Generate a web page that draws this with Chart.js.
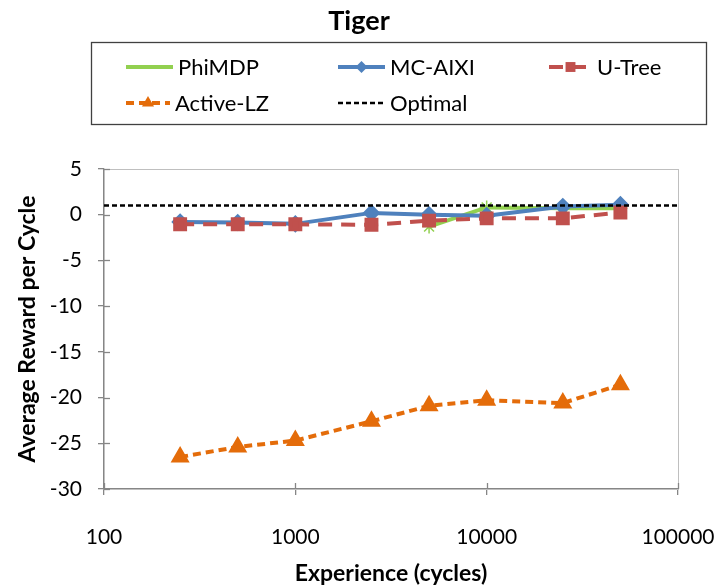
<!DOCTYPE html>
<html><head><meta charset="utf-8">
<script src="https://cdn.jsdelivr.net/npm/chart.js@4/dist/chart.umd.min.js"></script>
<style>html,body{margin:0;padding:0;background:#fff}#wrap{width:718px;height:588px;position:relative}</style>
</head><body><div id="wrap"><canvas id="c"></canvas></div>
<script>
const chartTitle = 'Tiger';
const xAxisTitle = 'Experience (cycles)';
const yAxisTitle = 'Average Reward per Cycle';
const seriesNames = ['PhiMDP', 'MC-AIXI', 'U-Tree', 'Active-LZ', 'Optimal'];
const experience = [250, 500, 1000, 2500, 5000, 10000, 25000, 50000];
const phiMDP   = [null, null, null, null, -1.3, 0.8, 0.7, 0.7];
const mcAIXI   = [-0.8, -0.85, -1.0, 0.2, 0.0, -0.1, 0.9, 1.1];
const uTree    = [-1.05, -1.05, -1.05, -1.1, -0.65, -0.4, -0.4, 0.25];
const activeLZ = [-26.5, -25.4, -24.7, -22.6, -20.9, -20.3, -20.6, -18.6];
const optimalValue = 1;
const xTickValues = [100, 1000, 10000, 100000];
const yMin = -30, yMax = 5, yStep = 5;

const FONT = 'Lato';
const AXIS = '#868686';
const pts = arr => experience.map((x, i) => ({x, y: arr[i]}));

const datasets = [
  {label: seriesNames[0], data: pts(phiMDP), borderColor: '#92D050', backgroundColor: '#92D050',
   borderWidth: 4, pointStyle: 'star', pointRadius: 7, pointBorderWidth: 1.5, order: 4},
  {label: seriesNames[1], data: pts(mcAIXI), borderColor: '#4F81BD', backgroundColor: '#4F81BD',
   borderWidth: 4, pointStyle: 'rectRot', pointRadius: 6, order: 3},
  {label: seriesNames[2], data: pts(uTree), borderColor: '#C0504D', backgroundColor: '#C0504D',
   borderWidth: 4, borderDash: [14, 9], pointStyle: 'rect', pointRadius: 7, order: 1},
  {label: seriesNames[3], data: pts(activeLZ), borderColor: '#E46C0A', backgroundColor: '#E46C0A',
   borderWidth: 4, borderDash: [8, 5], pointStyle: 'triangle', pointRadius: 7, order: 2},
  {label: seriesNames[4], data: [{x: xTickValues[0], y: optimalValue}, {x: xTickValues[xTickValues.length-1], y: optimalValue}],
   borderColor: '#000', backgroundColor: '#000', borderWidth: 2.5, borderDash: [5, 3], pointRadius: 0, order: 0}
];
datasets.forEach(d => { d.pointBorderColor = d.borderColor; d.pointBackgroundColor = d.borderColor; d.clip = 6; });

const legendSlots = [
  {x: 126, y: 67, w: 47}, {x: 338, y: 67, w: 47}, {x: 549, y: 67, w: 43},
  {x: 126, y: 103, w: 44}, {x: 338, y: 103, w: 47}
];

const decorPlugin = {
  id: 'decor',
  beforeDatasetsDraw(chart) {
    const {ctx, chartArea: a} = chart;
    ctx.save();
    ctx.strokeStyle = '#BFBFBF'; ctx.lineWidth = 1;
    ctx.strokeRect(a.left + 0.5, a.top + 0.5, a.right - a.left, a.bottom - a.top);
    ctx.restore();
  },
  afterDraw(chart) {
    const {ctx, chartArea: a} = chart;
    ctx.save();
    ctx.strokeStyle = AXIS; ctx.lineWidth = 1.3;
    chart.scales.y.ticks.forEach(t => {
      const y = Math.round(chart.scales.y.getPixelForValue(t.value)) + 0.5;
      ctx.beginPath(); ctx.moveTo(a.left, y); ctx.lineTo(a.left + 6, y); ctx.stroke();
    });
    chart.scales.x.ticks.forEach(t => {
      const x = Math.round(chart.scales.x.getPixelForValue(t.value)) + 0.5;
      ctx.beginPath(); ctx.moveTo(x, a.bottom); ctx.lineTo(x, a.bottom - 6); ctx.stroke();
    });
    ctx.fillStyle = '#000';
    ctx.font = 'bold 27px ' + FONT;
    ctx.textAlign = 'center'; ctx.textBaseline = 'middle';
    ctx.fillText(chartTitle, 359, 21);
    ctx.strokeStyle = '#404040'; ctx.lineWidth = 1.3;
    ctx.strokeRect(91.5, 42.5, 615, 82);
    ctx.font = '22px ' + FONT; ctx.textAlign = 'left';
    chart.data.datasets.forEach((d, i) => {
      const s = legendSlots[i];
      ctx.save();
      ctx.strokeStyle = d.borderColor; ctx.lineWidth = d.borderWidth;
      ctx.setLineDash(d.borderDash || []);
      ctx.beginPath(); ctx.moveTo(s.x, s.y); ctx.lineTo(s.x + s.w, s.y); ctx.stroke();
      ctx.setLineDash([]);
      if (d.pointRadius > 0) {
        ctx.fillStyle = d.borderColor; ctx.strokeStyle = d.borderColor;
        ctx.lineWidth = d.pointBorderWidth || 1;
        Chart.helpers.drawPoint(ctx, {pointStyle: d.pointStyle, radius: d.pointRadius, rotation: 0}, s.x + s.w / 2, s.y);
      }
      ctx.restore();
      ctx.fillStyle = '#000';
      ctx.fillText(d.label, s.x + s.w + 5, s.y + 1);
    });
    ctx.restore();
  }
};

new Chart(document.getElementById('c'), {
  type: 'line',
  data: {datasets},
  plugins: [decorPlugin],
  options: {
    responsive: true, maintainAspectRatio: false, animation: false,
    layout: {padding: {top: 169, right: 40, left: 0, bottom: 0}},
    plugins: {legend: {display: false}, title: {display: false}, tooltip: {enabled: false}},
    elements: {line: {tension: 0}},
    scales: {
      x: {
        type: 'logarithmic', min: xTickValues[0], max: xTickValues[xTickValues.length - 1],
        afterBuildTicks: s => { s.ticks = xTickValues.map(v => ({value: v})); },
        afterFit: s => { s.height = 99; s.paddingLeft = 0; s.paddingRight = 0; },
        ticks: {callback: v => String(v), color: '#000', font: {family: FONT, size: 21}, padding: 30, maxRotation: 0, autoSkip: false},
        grid: {drawOnChartArea: false, drawTicks: true, tickLength: 6, color: AXIS, lineWidth: 1.3},
        border: {color: AXIS, width: 1.3},
        title: {display: true, text: xAxisTitle, color: '#000', font: {family: FONT, size: 23, weight: 'bold'}, padding: {top: 4, bottom: 1}}
      },
      y: {
        min: yMin, max: yMax,
        afterFit: s => { s.width = 104; s.paddingTop = 0; s.paddingBottom = 0; },
        ticks: {stepSize: yStep, color: '#000', font: {family: FONT, size: 21}, padding: 16},
        grid: {drawOnChartArea: false, drawTicks: true, tickLength: 6, color: AXIS, lineWidth: 1.3},
        border: {color: AXIS, width: 1.3},
        title: {display: true, text: yAxisTitle, color: '#000', font: {family: FONT, size: 23, weight: 'bold'}, padding: {top: 14, bottom: 4}}
      }
    }
  }
});
</script></body></html>
